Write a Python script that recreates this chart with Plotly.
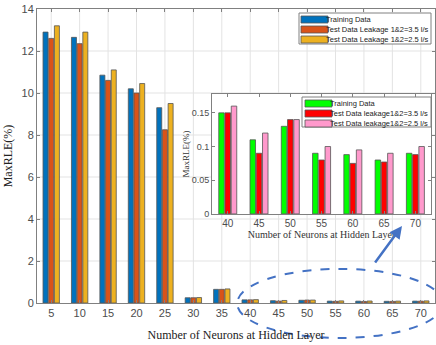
import plotly.graph_objects as go

neurons = ["5", "10", "15", "20", "25", "30", "35", "40", "45", "50", "55", "60", "65", "70"]
train = [12.9, 12.65, 10.85, 10.2, 9.3, 0.25, 0.65, 0.15, 0.11, 0.13, 0.09, 0.088, 0.08, 0.09]
test35 = [12.6, 12.35, 10.6, 10.0, 8.25, 0.25, 0.65, 0.15, 0.09, 0.14, 0.08, 0.075, 0.077, 0.088]
test25 = [13.2, 12.9, 11.1, 10.45, 9.5, 0.26, 0.67, 0.16, 0.12, 0.14, 0.10, 0.095, 0.09, 0.10]
main_names = ["Training Data", "Test Data Leakage 1&2=3.5 l/s", "Test Data Leakage 1&2=2.5 l/s"]
main_colors = ["#0072BD", "#D95319", "#EDB120"]
main_yticks = [0, 2, 4, 6, 8, 10, 12, 14]

inset_neurons = ["40", "45", "50", "55", "60", "65", "70"]
inset_train = [0.15, 0.11, 0.13, 0.09, 0.088, 0.08, 0.09]
inset_test35 = [0.15, 0.09, 0.14, 0.08, 0.075, 0.077, 0.088]
inset_test25 = [0.16, 0.12, 0.14, 0.10, 0.095, 0.09, 0.10]
inset_names = ["Training Data", "Test Data leakage1&2=3.5 l/s", "Test Data leakage1&2=2.5 l/s"]
inset_colors = ["#00FF00", "#FF0000", "#FF99CC"]
inset_yticks = [0, 0.05, 0.1, 0.15]
inset_yticklabels = ["0", "0.05", "0.1", "0.15"]

W, H = 436, 345
ML, MR, MT, MB = 37, 1, 9, 42
PW, PH = W - ML - MR, H - MT - MB


def px_x(px):
    return (px - ML) / PW


def px_y(py):
    return (H - MB - py) / PH


edge = dict(color="#555555", width=0.8)
fig = go.Figure()
for vals, name, col in zip([train, test35, test25], main_names, main_colors):
    fig.add_bar(x=neurons, y=vals, name=name, showlegend=False,
                marker=dict(color=col, line=edge))
for vals, name, col in zip([inset_train, inset_test35, inset_test25], inset_names, inset_colors):
    fig.add_bar(x=inset_neurons, y=vals, name=name, showlegend=False, xaxis="x2", yaxis="y2",
                marker=dict(color=col, line=edge))

tickfont = dict(family="Liberation Sans, Arial", size=11, color="#4d4d4d")
serif = dict(family="Liberation Serif, Times New Roman", size=12, color="#222222")
gridline = dict(color="#e3e3e3", width=1)

shapes = []
# main grid (drawn as below-shapes so the inset can hide it)
for v in main_yticks[1:-1]:
    shapes.append(dict(type="line", xref="x domain", yref="y", x0=0, x1=1, y0=v, y1=v,
                       line=gridline, layer="below"))
for i in range(len(neurons)):
    shapes.append(dict(type="line", xref="x", yref="y domain", x0=i, x1=i, y0=0, y1=1,
                       line=gridline, layer="below"))
shapes += [
    dict(type="rect", xref="x2 domain", yref="y2 domain", x0=0, x1=1, y0=0, y1=1,
         fillcolor="white", line=dict(width=0), layer="below"),
    dict(type="circle", xref="paper", yref="paper", x0=0.503, x1=1.02, y0=-0.119, y1=0.116,
         line=dict(color="#4472C4", width=2, dash="dash")),
]
annotations = [
    dict(xref="paper", yref="paper", x=px_x(402), y=px_y(226), text="", showarrow=True,
         ax=-28, ay=38, arrowhead=2, arrowsize=1, arrowwidth=2.5, arrowcolor="#4472C4"),
]


def add_legend(names, colors, box, sw_x0, sw_x1, text_x, row0, row_h):
    bx0, by0, bx1, by1 = box
    shapes.append(dict(type="rect", xref="paper", yref="paper",
                       x0=px_x(bx0), x1=px_x(bx1), y0=px_y(by1), y1=px_y(by0),
                       fillcolor="white", line=dict(color="#808080", width=1)))
    for i, (n, c) in enumerate(zip(names, colors)):
        cy = row0 + i * row_h
        shapes.append(dict(type="rect", xref="paper", yref="paper",
                           x0=px_x(sw_x0), x1=px_x(sw_x1), y0=px_y(cy + 3.5), y1=px_y(cy - 3.5),
                           fillcolor=c, line=dict(color="#555555", width=0.8)))
        annotations.append(dict(xref="paper", yref="paper", x=px_x(text_x), y=px_y(cy),
                                xanchor="left", yanchor="middle", text=n, showarrow=False,
                                borderpad=0, borderwidth=0,
                                font=dict(family="Liberation Sans, Arial", size=7.5, color="#222222")))


add_legend(main_names, main_colors, (299, 13, 431, 44), 301, 328, 326, 19.5, 10)
add_legend(inset_names, inset_colors, (302, 97, 431, 127), 305, 332, 330, 103.5, 10)

fig.update_layout(
    width=W, height=H,
    margin=dict(l=ML, r=MR, t=MT, b=MB),
    plot_bgcolor="white", paper_bgcolor="white",
    barmode="group", bargap=0.4, bargroupgap=0.12,
    showlegend=False,
    xaxis=dict(domain=[0, 1], type="category", range=[-0.5, len(neurons) - 0.5], showgrid=False,
               showline=True, linecolor="#808080", mirror="ticks", ticks="inside", ticklen=3,
               tickcolor="#808080", tickfont=tickfont,
               title=dict(text="Number of Neurons at Hidden Layer", font=serif, standoff=12)),
    yaxis=dict(domain=[0, 1], range=[0, 14], tickvals=main_yticks, showgrid=False,
               showline=True, linecolor="#808080", mirror="ticks", ticks="inside", ticklen=3,
               tickcolor="#808080", tickfont=tickfont, zeroline=False,
               title=dict(text="MaxRLE(%)", font=serif, standoff=6)),
    xaxis2=dict(domain=[0.44, 0.99], anchor="y2", type="category", showgrid=False,
                showline=True, linecolor="#808080", mirror="ticks", ticks="inside", ticklen=3,
                tickcolor="#808080", tickfont=dict(family="Liberation Sans, Arial", size=10, color="#4d4d4d"),
                title=dict(text="Number of Neurons at Hidden Layer",
                           font=dict(family="Liberation Serif, Times New Roman", size=10, color="#333333"),
                           standoff=1)),
    yaxis2=dict(domain=[0.303, 0.711], anchor="x2", range=[0, 0.178],
                tickvals=inset_yticks, ticktext=inset_yticklabels,
                showgrid=False, zeroline=False,
                showline=True, linecolor="#808080", mirror="ticks", ticks="inside", ticklen=3,
                tickcolor="#808080", tickfont=dict(family="Liberation Sans, Arial", size=9, color="#4d4d4d"),
                title=dict(text="MaxRLE(%)",
                           font=dict(family="Liberation Serif, Times New Roman", size=9, color="#333333"),
                           standoff=0)),
    shapes=shapes,
    annotations=annotations,
)

fig.write_html("out.html")
